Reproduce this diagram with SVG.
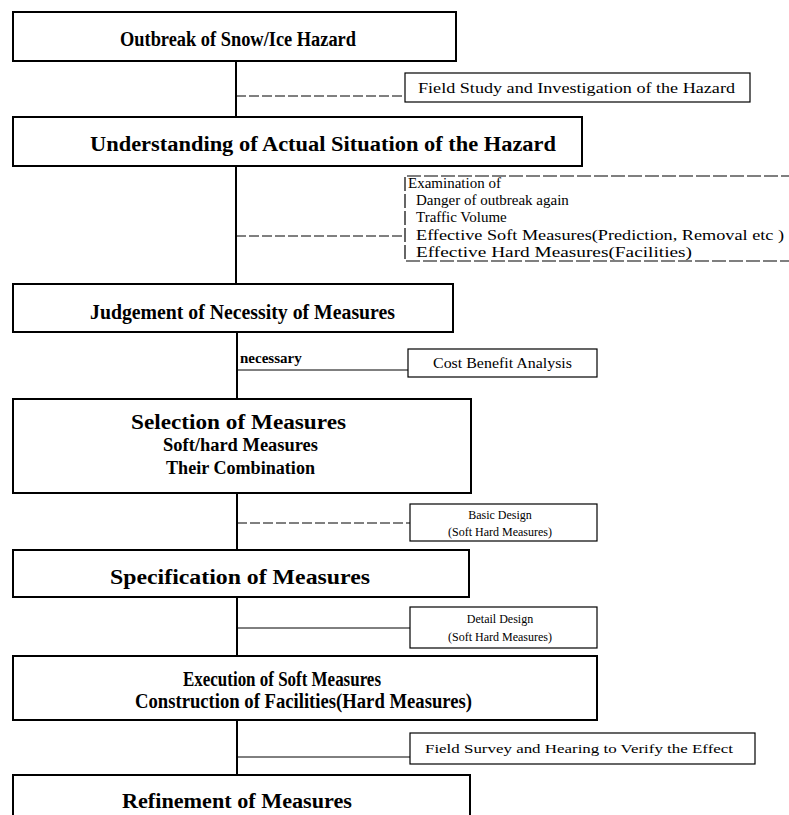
<svg xmlns="http://www.w3.org/2000/svg" width="789" height="815" viewBox="0 0 789 815">
<style>
.main{fill:#fff;stroke:#000;stroke-width:2}
.side{fill:#fff;stroke:#000;stroke-width:1.2}
.t{font-family:"Liberation Serif","Times New Roman",serif;font-weight:bold;font-size:20px;fill:#000}
.t2{font-family:"Liberation Serif","Times New Roman",serif;font-weight:bold;font-size:18px;fill:#000}
.s{font-family:"Liberation Serif","Times New Roman",serif;font-size:14px;fill:#000}
.x{font-family:"Liberation Serif","Times New Roman",serif;font-size:15px;fill:#000}
.s2{font-family:"Liberation Serif","Times New Roman",serif;font-size:12px;fill:#000}
.v{stroke:#000;stroke-width:2;fill:none}
.d{stroke:#000;stroke-width:1;fill:none;stroke-dasharray:10 3}
.l{stroke:#000;stroke-width:1;fill:none}
</style>
<g id="connectors">
<line class="v" x1="236" y1="61" x2="236" y2="117"/>
<line class="d" x1="236" y1="96" x2="405" y2="96"/>
<line class="v" x1="236" y1="166" x2="236" y2="284"/>
<line class="d" x1="236" y1="236" x2="405" y2="236"/>
<line class="v" x1="237" y1="332" x2="237" y2="399"/>
<line class="l" x1="237" y1="370" x2="408" y2="370"/>
<line class="v" x1="237" y1="493" x2="237" y2="550"/>
<line class="d" x1="237" y1="523" x2="410" y2="523"/>
<line class="v" x1="237" y1="597" x2="237" y2="655"/>
<line class="l" x1="237" y1="628" x2="410" y2="628"/>
<line class="v" x1="237" y1="720" x2="237" y2="775"/>
<line class="l" x1="237" y1="757" x2="410" y2="757"/>
</g>
<g id="n1">
<rect class="main" x="13" y="12" width="443" height="49"/>
<text class="t" x="120" y="46" textLength="236" lengthAdjust="spacingAndGlyphs">Outbreak of Snow/Ice Hazard</text>
</g>
<g id="s1">
<rect class="side" x="405" y="73" width="345" height="29"/>
<text class="s" x="418" y="93" textLength="317" lengthAdjust="spacingAndGlyphs">Field Study and Investigation of  the Hazard</text>
</g>
<g id="n2">
<rect class="main" x="13" y="117" width="569" height="49"/>
<text class="t" x="90" y="151" textLength="466" lengthAdjust="spacingAndGlyphs">Understanding  of Actual Situation of the Hazard</text>
</g>
<g id="s2">
<polyline class="side" points="795,176 405,176 405,261 795,261" style="stroke-dasharray:14 3"/>
<text class="x" x="408" y="188">Examination of</text>
<text class="x" x="416" y="205">Danger of outbreak again</text>
<text class="x" x="416" y="222">Traffic Volume</text>
<text class="x" x="416" y="240" textLength="368" lengthAdjust="spacingAndGlyphs">Effective Soft Measures(Prediction, Removal etc )</text>
<text class="x" x="416" y="257" textLength="276" lengthAdjust="spacingAndGlyphs">Effective Hard Measures(Facilities)</text>
</g>
<g id="n3">
<rect class="main" x="13" y="284" width="440" height="48"/>
<text class="t" x="90" y="319" textLength="305" lengthAdjust="spacingAndGlyphs">Judgement of Necessity of Measures</text>
</g>
<text class="x" x="240" y="363" style="font-weight:bold">necessary</text>
<g id="s3">
<rect class="side" x="408" y="349" width="189" height="28"/>
<text class="s" x="433" y="368" textLength="139" lengthAdjust="spacingAndGlyphs">Cost Benefit Analysis</text>
</g>
<g id="n4">
<rect class="main" x="13" y="399" width="458" height="94"/>
<text class="t" x="131" y="429" textLength="215" lengthAdjust="spacingAndGlyphs">Selection of Measures</text>
<text class="t2" x="163" y="451" textLength="155" lengthAdjust="spacingAndGlyphs">Soft/hard Measures</text>
<text class="t2" x="166" y="474" textLength="149" lengthAdjust="spacingAndGlyphs">Their Combination</text>
</g>
<g id="s4">
<rect class="side" x="410" y="504" width="187" height="37"/>
<text class="s2" x="500" y="519" text-anchor="middle">Basic Design</text>
<text class="s2" x="500" y="536" text-anchor="middle">(Soft Hard Measures)</text>
</g>
<g id="n5">
<rect class="main" x="13" y="550" width="456" height="47"/>
<text class="t" x="110" y="584" textLength="260" lengthAdjust="spacingAndGlyphs">Specification of Measures</text>
</g>
<g id="s5">
<rect class="side" x="410" y="607" width="187" height="41"/>
<text class="s2" x="500" y="623" text-anchor="middle">Detail Design</text>
<text class="s2" x="500" y="641" text-anchor="middle">(Soft Hard Measures)</text>
</g>
<g id="n6">
<rect class="main" x="13" y="656" width="584" height="64"/>
<text class="t" x="183" y="686" textLength="198" lengthAdjust="spacingAndGlyphs">Execution of Soft Measures</text>
<text class="t" x="135" y="708" textLength="337" lengthAdjust="spacingAndGlyphs">Construction of Facilities(Hard Measures)</text>
</g>
<g id="s6">
<rect class="side" x="410" y="733" width="345" height="31"/>
<text class="s2" x="425" y="753" textLength="308" lengthAdjust="spacingAndGlyphs">Field Survey and Hearing to Verify the Effect</text>
</g>
<g id="n7">
<rect class="main" x="13" y="775" width="457" height="50"/>
<text class="t" x="122" y="808" textLength="230" lengthAdjust="spacingAndGlyphs">Refinement of Measures</text>
</g>
</svg>
